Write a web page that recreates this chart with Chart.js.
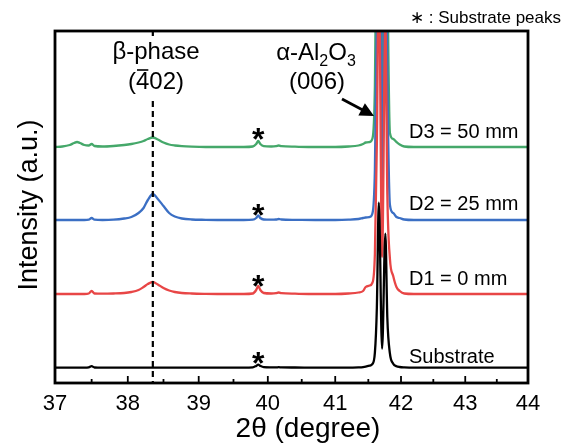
<!DOCTYPE html>
<html>
<head>
<meta charset="utf-8">
<script src="https://cdn.jsdelivr.net/npm/chart.js@4"></script>
<style>
  body { margin: 0; background: #fff; }
  canvas { display: block; }
</style>
</head>
<body>
<canvas id="xrd" width="571" height="446"></canvas>
<script>
// 2theta grid (degree) shared by all patterns
const twoTheta = [
    37.00, 37.10, 37.20, 37.26, 37.30, 37.34, 37.40, 37.46, 37.50, 37.54,
    37.65, 37.80, 37.95, 38.05, 38.15, 38.22, 38.28, 38.35, 38.42, 38.50,
    38.58, 38.66, 38.76, 38.90, 39.10, 39.40, 39.65, 39.78, 39.83, 39.86,
    39.89, 39.94, 40.05, 40.12, 40.16, 40.20, 40.40, 40.70, 41.00, 41.20,
    41.35, 41.42, 41.46, 41.52, 41.56, 41.60, 41.63, 41.66, 41.71, 41.76,
    41.79, 41.83, 41.88, 41.93, 41.98, 42.05, 42.20, 42.50, 43.00, 44.00
];

// intensities above each pattern's own baseline (a.u.)
const substrate = [
    0, 0, 0, 0, 0, 0, 0, 0.3, 1.5, 0.2,
    0, 0, 0, 0, 0, 0, 0, 0, 0, 0,
    0, 0, 0, 0, 0, 0, 0, 0.3, 1.8, 3,
    1.8, 0.6, 0.4, 0.3, 0.5, 0.3, 0.2, 0, 0, 0,
    0.3, 0.6, 1, 2, 3.5, 15, 60, 165, 19, 134,
    50, 14, 4, 1.5, 0.7, 0.3, 0, 0, 0, 0
];
const d1 = [
    0, 0, 0, 0, 0, 0, 0, 0.5, 3, 0.5,
    0.3, 0.5, 1, 2, 4, 7, 10, 12, 9.5, 6,
    3.5, 2, 1, 0.5, 0.2, 0, 0, 0.5, 4, 8,
    4, 1, 0.5, 0.8, 1.5, 0.8, 0.3, 0, 0, 0.5,
    1.5, 3, 7, 8.5, 11, 40, 150, 330, 37, 270,
    100, 35, 18, 7, 3, 0.5, 0, 0, 0, 0
];
const d2 = [
    0, 0, 0, 0, 0, 0, 0, 0.3, 2, 0.3,
    0, 0.3, 1.5, 3, 7, 12, 20, 26, 21, 14,
    7, 3.5, 1.5, 0.5, 0.2, 0, 0, 0.3, 2, 4.5,
    2, 0.5, 0.3, 0.5, 1, 0.5, 0.2, 0, 0, 0.3,
    1, 2, 2.5, 3, 6, 50, 200, 450, 23, 380,
    150, 15, 7, 3, 2, 0.5, 0, 0, 0, 0
];
const d3 = [
    0, 0.5, 2, 4, 5, 4, 2, 1.5, 3, 1,
    0.5, 1, 2, 3, 4.5, 6, 8, 9.5, 7.5, 4.5,
    2.5, 1.5, 0.8, 0.3, 0, 0, 0, 0.5, 3, 6,
    3, 0.8, 0.5, 0.8, 1.5, 0.8, 0.3, 0, 0, 0.5,
    1.5, 3, 4.5, 5, 8, 60, 250, 550, 37, 500,
    200, 14, 8, 5, 2.5, 0.5, 0, 0, 0, 0
];

// vertical stacking offsets, labels, colours (front-most first)
const seriesNames = ['Substrate', 'D1 = 0 mm', 'D2 = 25 mm', 'D3 = 50 mm'];
const offsets = [15.3, 89, 163, 236];
const starGap = [12.5, 16, 13, 16];
const colors = ['#000000', '#e84646', '#3b6fc4', '#45a86a'];
const xTicks = [37, 38, 39, 40, 41, 42, 43, 44];
const minorTicks = [37.5, 38.5, 39.5, 40.5, 41.5, 42.5, 43.5];
const betaPeak = 38.35;
const starPeak = 39.86;

const FONT = '"Liberation Sans", Arial, sans-serif';
const allSeries = [substrate, d1, d2, d3];

const datasets = allSeries.map((vals, i) => ({
    label: seriesNames[i],
    data: twoTheta.map((t, k) => ({ x: t, y: vals[k] + offsets[i] })),
    borderColor: colors[i],
    borderWidth: 2.3,
    pointRadius: 0,
    fill: false,
    cubicInterpolationMode: 'monotone'
}));

function text(ctx, str, x, y, size, align) {
    ctx.font = size + 'px ' + FONT;
    ctx.textAlign = align || 'center';
    ctx.textBaseline = 'middle';
    ctx.fillText(str, x, y);
}

const overlay = {
    id: 'overlay',
    afterDatasetsDraw(chart) {
        const ctx = chart.ctx;
        const a = chart.chartArea;
        const xs = chart.scales.x;
        const ys = chart.scales.y;
        ctx.save();
        ctx.fillStyle = '#000';
        ctx.strokeStyle = '#000';

        // dashed marker for the beta (-402) peak
        const bx = xs.getPixelForValue(betaPeak);
        ctx.lineWidth = 2.2;
        ctx.setLineDash([6, 4]);
        ctx.beginPath();
        ctx.moveTo(bx, a.top);
        ctx.lineTo(bx, a.bottom);
        ctx.stroke();
        ctx.setLineDash([]);
        ctx.fillStyle = '#fff';
        ctx.fillRect(bx - 45, a.top + 5, 90, 64);
        ctx.fillStyle = '#000';

        text(ctx, '\u03b2-phase', 156, 52, 24);
        ctx.font = '24px ' + FONT;
        const w = ctx.measureText('(402)').width;
        const x0 = 156 - w / 2;
        text(ctx, '(402)', 156, 82, 24);
        const pw = ctx.measureText('(').width;
        const fw = ctx.measureText('4').width;
        ctx.lineWidth = 1.6;
        ctx.beginPath();
        ctx.moveTo(x0 + pw + 1, 70);
        ctx.lineTo(x0 + pw + fw - 1, 70);
        ctx.stroke();

        // alpha-Al2O3 label with subscripts
        const parts = [['\u03b1-Al', 24, 0], ['2', 16, 6], ['O', 24, 0], ['3', 16, 6]];
        let tw = 0;
        parts.forEach(p => { ctx.font = p[1] + 'px ' + FONT; tw += ctx.measureText(p[0]).width; });
        let cx = 316 - tw / 2;
        parts.forEach(p => {
            ctx.font = p[1] + 'px ' + FONT;
            ctx.textAlign = 'left';
            ctx.textBaseline = 'alphabetic';
            ctx.fillText(p[0], cx, 60 + p[2]);
            cx += ctx.measureText(p[0]).width;
        });
        text(ctx, '(006)', 317, 82, 24);

        // arrow to the (006) peak
        const tx = 374, ty = 116, sx = 342, sy = 99;
        const ang = Math.atan2(ty - sy, tx - sx);
        ctx.lineWidth = 2.8;
        ctx.beginPath();
        ctx.moveTo(sx, sy);
        ctx.lineTo(tx - 8 * Math.cos(ang), ty - 8 * Math.sin(ang));
        ctx.stroke();
        ctx.beginPath();
        ctx.moveTo(tx, ty);
        ctx.lineTo(tx - 14 * Math.cos(ang) + 7 * Math.sin(ang), ty - 14 * Math.sin(ang) - 7 * Math.cos(ang));
        ctx.lineTo(tx - 14 * Math.cos(ang) - 7 * Math.sin(ang), ty - 14 * Math.sin(ang) + 7 * Math.cos(ang));
        ctx.closePath();
        ctx.fill();

        // substrate-peak asterisks
        const sxp = xs.getPixelForValue(starPeak);
        offsets.forEach((o, i) => {
            const py = ys.getPixelForValue(o + starGap[i]);
            ctx.font = 'bold 32px ' + FONT;
            ctx.textAlign = 'center';
            ctx.textBaseline = 'alphabetic';
            ctx.fillText('*', sxp, py + 19);
        });

        // series labels
        text(ctx, seriesNames[3], 409, 132, 20, 'left');
        text(ctx, seriesNames[2], 409, 204, 20, 'left');
        text(ctx, seriesNames[1], 409, 279, 20, 'left');
        text(ctx, seriesNames[0], 409, 357, 20, 'left');

        // x ticks pointing inward
        ctx.lineWidth = 1.8;
        xTicks.forEach(v => {
            const px = xs.getPixelForValue(v);
            ctx.beginPath(); ctx.moveTo(px, a.bottom); ctx.lineTo(px, a.bottom - 7); ctx.stroke();
        });
        minorTicks.forEach(v => {
            const px = xs.getPixelForValue(v);
            ctx.beginPath(); ctx.moveTo(px, a.bottom); ctx.lineTo(px, a.bottom - 4); ctx.stroke();
        });

        // frame
        ctx.lineWidth = 2.8;
        ctx.strokeRect(a.left, a.top, a.right - a.left, a.bottom - a.top);

        // outside texts
        text(ctx, '\u2217 : Substrate peaks', 561, 18, 17, 'right');
        text(ctx, '2\u03b8 (degree)', 308, 429, 28);
        ctx.translate(30, 205);
        ctx.rotate(-Math.PI / 2);
        text(ctx, 'Intensity (a.u.)', 0, 0, 27);
        ctx.restore();
    }
};

const chart = new Chart(document.getElementById('xrd').getContext('2d'), {
    type: 'line',
    data: { datasets: datasets },
    options: {
        responsive: false,
        animation: false,
        layout: { padding: { top: 31, right: 43, left: 0, bottom: 0 } },
        plugins: { legend: { display: false }, tooltip: { enabled: false } },
        scales: {
            x: {
                type: 'logarithmic',
                min: 37,
                max: 44,
                afterBuildTicks: s => { s.ticks = xTicks.map(v => ({ value: v })); },
                afterFit: s => { s.height = 63; },
                ticks: {
                    callback: v => v,
                    autoSkip: false,
                    maxRotation: 0,
                    color: '#000',
                    padding: 8,
                    font: { family: FONT, size: 22 }
                },
                grid: { display: false, drawTicks: false },
                border: { display: false }
            },
            y: {
                min: 0,
                max: 352,
                afterFit: s => { s.width = 55; },
                ticks: { display: false },
                grid: { display: false, drawTicks: false },
                border: { display: false }
            }
        }
    },
    plugins: [overlay]
});
</script>
</body>
</html>
